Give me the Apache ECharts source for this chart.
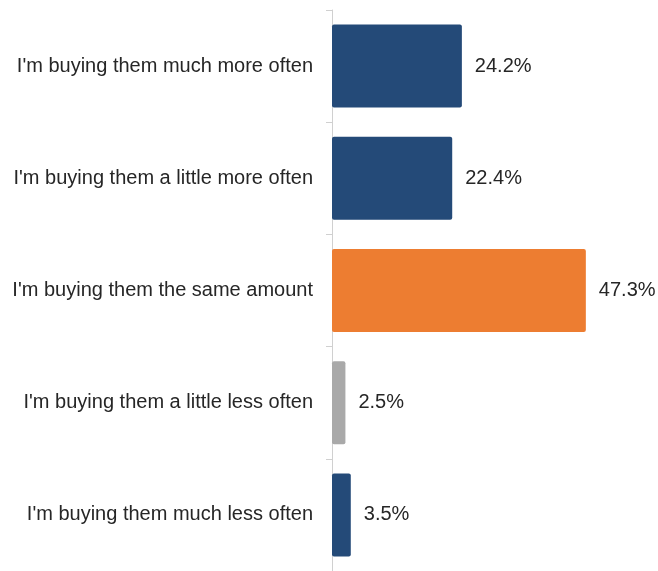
<!DOCTYPE html>
<html>
<head>
<meta charset="utf-8">
<script src="https://cdn.jsdelivr.net/npm/echarts@6/dist/echarts.min.js"></script>
<style>
  html, body { margin: 0; padding: 0; background: #ffffff; }
  #chart { width: 658px; height: 571px; }
</style>
</head>
<body>
<div id="chart"></div>
<script>
// Survey answers, top to bottom
const categories = [
  "I'm buying them much more often",
  "I'm buying them a little more often",
  "I'm buying them the same amount",
  "I'm buying them a little less often",
  "I'm buying them much less often"
];
const shares = [24.2, 22.4, 47.3, 2.5, 3.5];
const barColors = ['#244a78', '#244a78', '#ed7d31', '#a9a9a9', '#244a78'];

const chart = echarts.init(document.getElementById('chart'), null, { renderer: 'canvas' });

const textFont = {
  color: '#262626',
  fontFamily: 'Liberation Sans, Arial, sans-serif',
  fontSize: 20
};

chart.setOption({
  animation: false,
  backgroundColor: '#ffffff',
  grid: { left: 332, top: 10, height: 562, width: 322, containLabel: false },
  xAxis: {
    type: 'value',
    min: 0,
    max: 60,
    show: false
  },
  yAxis: {
    type: 'category',
    inverse: true,
    data: categories,
    axisLine: { show: true, lineStyle: { color: '#d0d0d0', width: 1 } },
    axisTick: { show: true, length: 6, lineStyle: { color: '#d0d0d0' } },
    axisLabel: Object.assign({ margin: 19 }, textFont),
    splitLine: { show: false }
  },
  series: [{
    type: 'bar',
    data: shares.map((v, i) => ({ value: v, itemStyle: { color: barColors[i] } })),
    barWidth: '74%',
    itemStyle: { borderRadius: 2 },
    label: Object.assign({
      show: true,
      position: 'right',
      distance: 13,
      formatter: p => p.value.toFixed(1) + '%'
    }, textFont)
  }]
});
</script>
</body>
</html>
